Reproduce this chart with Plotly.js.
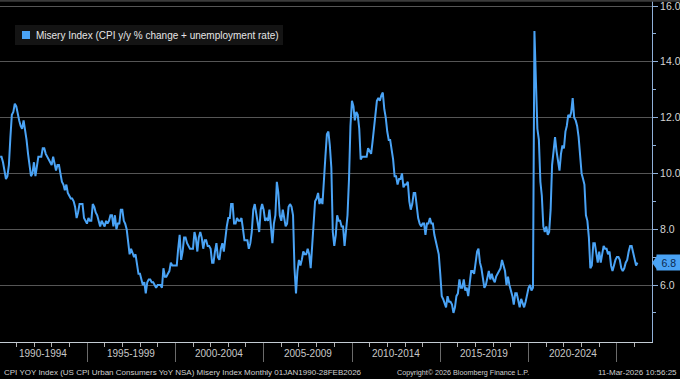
<!DOCTYPE html>
<html><head><meta charset="utf-8">
<script src="https://cdn.plot.ly/plotly-3.0.1.min.js"></script>
<style>html,body{margin:0;padding:0;background:#000;}#chart{width:680px;height:379px;}</style>
</head><body><div id="chart"></div>
<script>
const seriesName = 'Misery Index (CPI y/y % change + unemployment rate)';
const startYear = 1990;
// monthly values, Jan 1990 onward
const misery1990s = [
 10.6,10.6,10.4,10.1,9.8,9.9,10.3,11.3,12.1,12.2,12.5,12.4,
 12.1,11.9,11.7,11.6,11.9,11.6,11.2,10.7,10.3,9.9,10.0,10.4,
 9.9,10.2,10.6,10.6,10.6,10.9,10.9,10.7,10.6,10.5,10.4,10.3,
 10.6,10.3,10.1,10.3,10.3,10.0,9.7,9.6,9.4,9.6,9.3,9.2,
 9.1,9.1,9.0,8.8,8.4,8.6,8.9,8.9,8.9,8.4,8.3,8.2,
 8.4,8.3,8.3,8.9,8.8,8.6,8.5,8.3,8.1,8.3,8.2,8.1,
 8.3,8.2,8.3,8.5,8.5,8.1,8.5,8.0,8.2,8.2,8.7,8.7,
 8.3,8.2,8.0,7.6,7.1,7.3,7.1,7.0,7.1,6.8,6.4,6.4,
 6.2,6.0,6.1,5.7,6.1,6.2,6.2,6.1,6.1,6.0,5.9,6.0,
 6.0,6.0,5.9,6.6,6.3,6.3,6.4,6.5,6.8,6.7,6.7,6.7];
const misery2000s = [
 6.7,7.3,7.8,6.9,7.2,7.7,7.7,7.5,7.4,7.3,7.3,7.3,
 7.9,7.7,7.2,7.7,7.9,7.7,7.3,7.6,7.6,7.4,7.4,7.3,
 6.8,6.8,7.2,7.5,7.0,6.9,7.3,7.5,7.2,7.7,8.1,8.4,
 8.4,8.9,8.9,8.2,8.2,8.4,8.3,8.3,8.4,8.0,7.6,7.6,
 7.6,7.3,7.5,7.9,8.7,8.9,8.5,8.1,7.9,8.7,8.9,8.7,
 8.3,8.4,8.3,8.7,7.9,7.5,8.2,8.5,9.7,9.3,8.5,8.3,
 8.7,8.4,8.1,8.2,8.8,8.9,8.8,8.5,6.6,5.7,6.5,6.9,
 6.7,6.9,7.2,7.1,7.1,7.3,7.1,6.6,7.5,8.2,9.0,9.1,
 9.3,8.9,9.1,8.9,9.6,10.6,11.4,11.5,11.0,10.2,7.9,7.4,
 7.8,8.5,8.3,8.3,8.1,8.1,7.4,8.1,8.5,9.8,11.7,12.6];
const misery2010s = [
 12.4,11.9,12.2,12.1,11.6,10.5,10.6,10.6,10.6,10.6,10.9,10.8,
 10.7,11.1,11.7,12.3,12.6,12.7,12.6,12.8,12.9,12.3,12.0,11.5,
 11.2,11.2,10.9,10.5,9.9,9.9,9.6,9.8,9.8,10.0,9.5,9.6,
 9.6,9.7,9.0,8.7,8.9,9.3,9.3,8.7,8.4,8.2,8.1,8.2,
 8.2,7.8,8.2,8.2,8.4,8.2,8.2,7.8,7.6,7.4,7.1,6.4,
 5.6,5.5,5.3,5.2,5.6,5.4,5.4,5.3,5.0,5.2,5.6,5.7,
 6.2,5.9,5.9,6.2,5.8,5.9,5.6,6.0,6.5,6.5,6.4,6.8,
 7.2,7.3,6.8,6.6,6.3,5.9,6.0,6.3,6.5,6.2,6.4,6.2,
 6.1,6.3,6.4,6.5,6.6,6.9,6.7,6.5,6.0,6.3,6.0,5.8,
 5.6,5.3,5.7,5.7,5.4,5.2,5.5,5.3,5.2,5.4,5.7,5.9];
const misery2020s = [
 6.0,5.8,5.9,15.1,13.3,11.6,11.2,9.7,9.2,8.1,7.9,8.1,
 7.8,7.9,8.7,10.3,10.8,11.3,10.8,10.4,10.1,10.7,11.0,10.9,
 11.5,11.7,12.1,12.0,12.2,12.7,12.0,11.9,11.7,11.3,10.7,10.0,
 9.8,9.6,8.5,8.3,7.7,6.6,6.7,7.5,7.5,7.1,6.8,7.2,
 6.8,7.1,7.4,7.3,7.3,7.1,7.2,6.7,6.5,6.7,6.9,7.0,
 7.0,6.9,6.6,6.5,6.6,6.8,6.9,7.2,7.4,7.4,7.2,6.9,
 6.7,6.8];
const periodStarts = [1990,1995,2000,2005,2010,2015,2020];
const periodLabels = ['1990-1994','1995-1999','2000-2004','2005-2009','2010-2014','2015-2019','2020-2024'];
const separatorYears = [1990,1995,2000,2005,2010,2015,2020,2025];
const yTicks = [6,8,10,12,14,16];
const yMinor = [5,7,9,11,13,15];
const footerLeft = 'CPI YOY Index (US CPI Urban Consumers YoY NSA) Misery Index Monthly 01JAN1990-28FEB2026';
const footerCenter = 'Copyright\u00A9 2026 Bloomberg Finance L.P.';
const footerRight = '11-Mar-2026 10:56:25';

const values = misery1990s.concat(misery2000s, misery2010s, misery2020s);
const pad = n => (n < 10 ? '0' : '') + n;
const dates = values.map((v, i) => {
  const d = new Date(Date.UTC(startYear, i + 1, 0));
  return d.getUTCFullYear() + '-' + pad(d.getUTCMonth() + 1) + '-' + pad(d.getUTCDate());
});
const last = values[values.length - 1];

// pixel helpers (plot area: x 0..652, y 0..342)
const W = 680, H = 379, ML = 0, MR = 28, MT = 0, MB = 37;
const PW = W - ML - MR, PH = H - MT - MB;
const px = x => (x - ML) / PW;
const py = y => (H - MB - y) / PH;
const blue = '#4aa3f5';
const font = 'Liberation Sans, Arial, sans-serif';

const years = [];
for (let y = 1991; y <= 2026; y++) years.push(y + '-01-01');

const shapes = [
  {type:'line', xref:'paper', yref:'paper', x0:0, x1:px(680), y0:py(0.8), y1:py(0.8), line:{color:'#3a3a3a', width:2}},
  {type:'rect', xref:'paper', yref:'paper', x0:px(15), x1:px(283), y0:py(45), y1:py(25), fillcolor:'#141414', line:{width:0}},
  {type:'rect', xref:'paper', yref:'paper', x0:px(22), x1:px(30), y0:py(39), y1:py(31), fillcolor:blue, line:{width:0}},
  {type:'path', xref:'paper', yref:'y', path:`M ${px(652)},${last} L ${px(657)},${last+0.24} L ${px(657)},${last-0.24} Z`, fillcolor:blue, line:{width:0}}
];

const annotations = [
  {xref:'paper', yref:'paper', x:px(34), y:py(35), xanchor:'left', yanchor:'middle', showarrow:false, text:seriesName, font:{family:font, size:10, color:'#e6e6e6'}},
  {xref:'paper', yref:'y', x:px(656), y:last, xanchor:'left', yanchor:'middle', showarrow:false, text:' ' + last.toFixed(1) + ' ', bgcolor:blue, borderpad:1.5, font:{family:font, size:10.5, color:'#0c2a50'}},
  {xref:'paper', yref:'paper', x:px(2), y:py(372), xanchor:'left', yanchor:'middle', showarrow:false, text:footerLeft, font:{family:font, size:8, color:'#d0d0d0'}},
  {xref:'paper', yref:'paper', x:px(463), y:py(372), xanchor:'center', yanchor:'middle', showarrow:false, text:footerCenter, font:{family:font, size:7.2, color:'#d0d0d0'}},
  {xref:'paper', yref:'paper', x:px(679), y:py(372), xanchor:'right', yanchor:'middle', showarrow:false, text:footerRight, font:{family:font, size:8, color:'#d0d0d0'}}
];
periodStarts.forEach((s, i) => {
  annotations.push({xref:'x', yref:'paper', x:(s + 2) + '-07-02', y:py(353), xanchor:'center', yanchor:'middle', showarrow:false,
    text:periodLabels[i], font:{family:font, size:10, color:'#c8c8c8'}});
});

const data = [{
  type:'scatter', mode:'lines', x:dates, y:values, name:seriesName, showlegend:false,
  line:{color:blue, width:2}, hoverinfo:'skip'
}];

const layout = {
  width:W, height:H,
  margin:{l:ML, r:MR, t:MT, b:MB, pad:0},
  paper_bgcolor:'#000', plot_bgcolor:'#000',
  showlegend:false,
  xaxis:{
    type:'date', range:['1990-01-28','2026-12-26'],
    tickmode:'array', tickvals:separatorYears.map(y => y + '-01-01'), showticklabels:false,
    ticks:'outside', ticklen:19, tickcolor:'#6a6a6a', tickwidth:1,
    minor:{tickmode:'array', tickvals:years, ticks:'outside', ticklen:4, tickcolor:'#b0b0b0', showgrid:false},
    showgrid:false, zeroline:false, showline:true, linecolor:'#c4ccd4', linewidth:1, fixedrange:true
  },
  yaxis:{
    side:'right', range:[3.957, 16.215],
    tickmode:'array', tickvals:yTicks, ticktext:yTicks.map(v => v.toFixed(1)),
    ticks:'outside', ticklen:5, tickcolor:'#8fb0d8', ticklabeloverflow:'allow',
    minor:{tickmode:'array', tickvals:yMinor, ticks:'outside', ticklen:3, tickcolor:'#8fb0d8', showgrid:false},
    showgrid:true, gridcolor:'#555555', gridwidth:1,
    zeroline:false, showline:true, linecolor:'#8fb0d8', linewidth:1,
    tickfont:{family:font, size:10.5, color:'#d4d4d4'}, fixedrange:true
  },
  shapes:shapes, annotations:annotations
};
Plotly.newPlot('chart', data, layout, {staticPlot:true, displayModeBar:false});
</script>
</body></html>
